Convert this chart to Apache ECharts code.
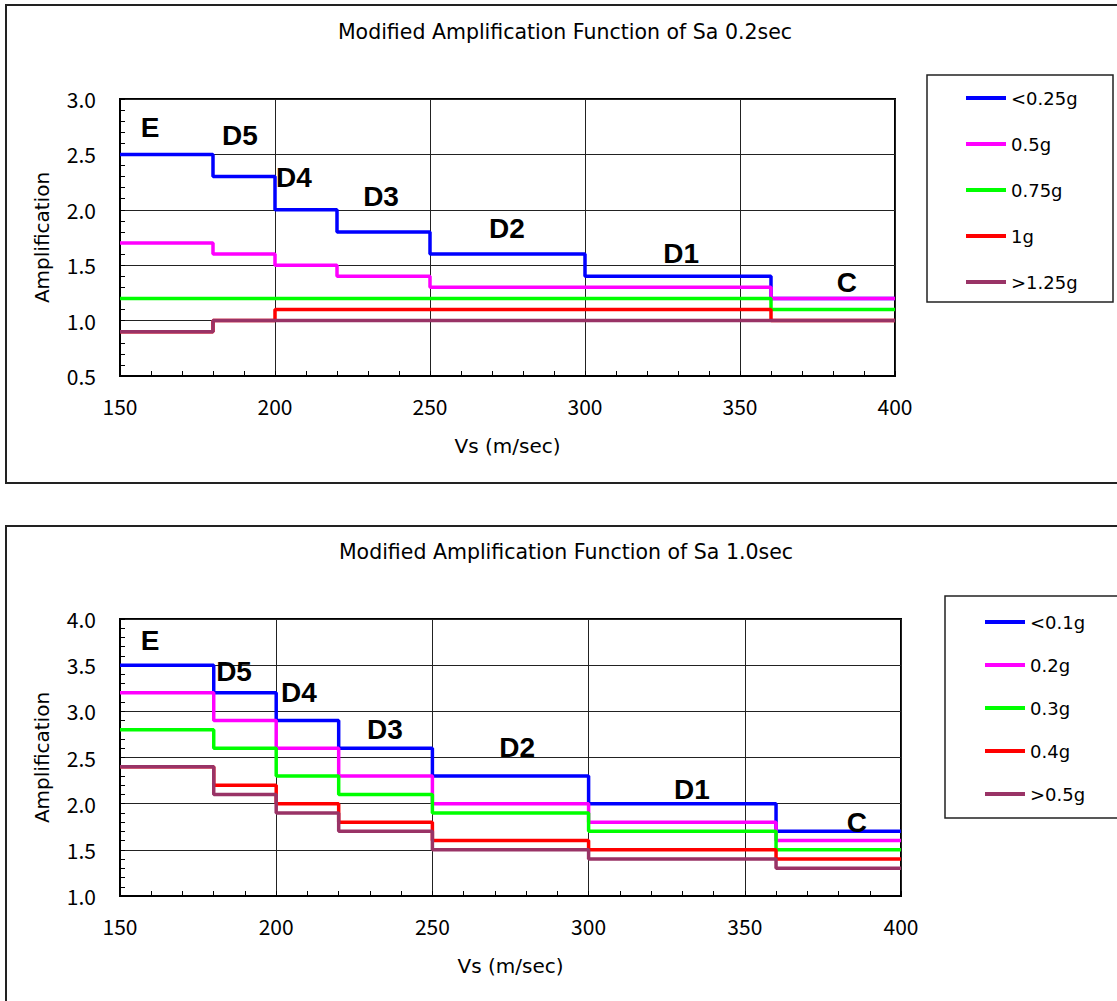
<!DOCTYPE html>
<html>
<head>
<meta charset="utf-8">
<script src="https://cdn.jsdelivr.net/npm/echarts@6/dist/echarts.min.js"></script>
<style>
html,body{margin:0;padding:0;background:#fff;}
#chart{width:1117px;height:1001px;}
</style>
</head>
<body>
<div id="chart"></div>
<script>
// Shear-wave velocity breakpoints (m/sec); each zone value holds until the next breakpoint
const vsBreaks = [150, 180, 200, 220, 250, 300, 360, 400];

// Sa 0.2 sec amplification, one value per zone (E, D5, D4, D3, D2, D1, C)
const top_lt025 = [2.5, 2.3, 2.0, 1.8, 1.6, 1.4, 1.2];
const top_05    = [1.7, 1.6, 1.5, 1.4, 1.3, 1.3, 1.2];
const top_075   = [1.2, 1.2, 1.2, 1.2, 1.2, 1.2, 1.1];
const top_1     = [0.9, 1.0, 1.1, 1.1, 1.1, 1.1, 1.0];
const top_gt125 = [0.9, 1.0, 1.0, 1.0, 1.0, 1.0, 1.0];
const topNames  = ['<0.25g', '0.5g', '0.75g', '1g', '>1.25g'];

// Sa 1.0 sec amplification
const bot_lt01 = [3.5, 3.2, 2.9, 2.6, 2.3, 2.0, 1.7];
const bot_02   = [3.2, 2.9, 2.6, 2.3, 2.0, 1.8, 1.6];
const bot_03   = [2.8, 2.6, 2.3, 2.1, 1.9, 1.7, 1.5];
const bot_04   = [2.4, 2.2, 2.0, 1.8, 1.6, 1.5, 1.4];
const bot_gt05 = [2.4, 2.1, 1.9, 1.7, 1.5, 1.4, 1.3];
const botNames = ['<0.1g', '0.2g', '0.3g', '0.4g', '>0.5g'];

// Site-class zone labels and their positions in data units [Vs, Amplification]
const zoneNames = ['E', 'D5', 'D4', 'D3', 'D2', 'D1', 'C'];
const topZonePos = [[159.7, 2.74], [188.7, 2.67], [206.1, 2.29], [234.2, 2.12], [274.8, 1.83], [331, 1.61], [384.5, 1.34]];
const botZonePos = [[159.6, 3.77], [186.5, 3.43], [207.3, 3.20], [234.8, 2.80], [277.1, 2.61], [333.1, 2.15], [385.9, 1.80]];

const colors = ['#0000FF', '#FF00FF', '#00FF00', '#FF0000', '#993366'];
const FONT = 'DejaVu Sans';
const TICKFONT = 'Noto Sans CJK JP';

function stepData(vals) {
  return vsBreaks.map((x, i) => [x, vals[Math.min(i, vals.length - 1)]]);
}

function xAxisCfg(gi) {
  return {
    gridIndex: gi, type: 'value', min: 150, max: 400, interval: 50,
    name: 'Vs (m/sec)', nameLocation: 'middle', nameGap: 60,
    nameTextStyle: {fontFamily: FONT, fontSize: 20, color: '#000'},
    axisLine: {show: true, onZero: false, lineStyle: {color: '#000', width: 2}},
    axisTick: {show: true, inside: true, length: 5, lineStyle: {color: '#000'}},
    minorTick: {show: true, splitNumber: 5, length: 5, lineStyle: {color: '#000'}},
    axisLabel: {fontFamily: TICKFONT, fontSize: 21, color: '#000', margin: 19},
    splitLine: {show: true, lineStyle: {color: '#222', width: 1}}
  };
}
function yAxisCfg(gi, min, max) {
  return {
    gridIndex: gi, type: 'value', min: min, max: max, interval: 0.5,
    name: 'Amplification', nameLocation: 'middle', nameGap: 68,
    nameTextStyle: {fontFamily: FONT, fontSize: 20, color: '#000'},
    axisLine: {show: true, onZero: false, lineStyle: {color: '#000', width: 2}},
    axisTick: {show: true, inside: true, length: 5, lineStyle: {color: '#000'}},
    minorTick: {show: true, splitNumber: 5, length: 5, lineStyle: {color: '#000'}},
    axisLabel: {fontFamily: TICKFONT, fontSize: 21, color: '#000', margin: 24,
      formatter: v => v.toFixed(1)},
    splitLine: {show: true, lineStyle: {color: '#222', width: 1}}
  };
}

const series = [];
[top_lt025, top_05, top_075, top_1, top_gt125].forEach((vals, i) => {
  series.push({type: 'line', name: topNames[i], xAxisIndex: 0, yAxisIndex: 0,
    step: 'end', data: stepData(vals), showSymbol: false, symbol: 'none',
    lineStyle: {color: colors[i], width: 3.5}, itemStyle: {color: colors[i]}, z: 3 + i});
});
[bot_lt01, bot_02, bot_03, bot_04, bot_gt05].forEach((vals, i) => {
  series.push({type: 'line', name: botNames[i], xAxisIndex: 1, yAxisIndex: 1,
    step: 'end', data: stepData(vals), showSymbol: false, symbol: 'none',
    lineStyle: {color: colors[i], width: 3.5}, itemStyle: {color: colors[i]}, z: 3 + i});
});
function zoneSeries(gi, pos) {
  return {type: 'scatter', name: 'zones' + gi, xAxisIndex: gi, yAxisIndex: gi,
    symbolSize: 0, itemStyle: {color: '#000', opacity: 1}, z: 20, silent: true,
    data: pos.map((p, i) => ({name: zoneNames[i], value: p})),
    label: {show: true, position: [0, 0], align: 'center', verticalAlign: 'middle',
      formatter: p => p.name, textBorderWidth: 0, opacity: 1,
      fontFamily: 'Liberation Sans', fontWeight: 'bold', fontSize: 28, color: '#000000'}};
}
series.push(zoneSeries(0, topZonePos));
series.push(zoneSeries(1, botZonePos));

function legendCfg(names, left, top, gap) {
  return {
    data: names, orient: 'vertical', left: left, top: top, padding: 0,
    itemWidth: 40, itemHeight: 4, icon: 'rect', itemGap: gap, itemTextGap: 3,
    selectedMode: false,
    textStyle: {fontFamily: FONT, fontSize: 18, color: '#000', lineHeight: 20}
  };
}

const option = {
  animation: false,
  backgroundColor: '#fff',
  title: [
    {text: 'Modified Amplification Function of Sa 0.2sec', left: 565, top: 21, textAlign: 'center', padding: 0,
      textStyle: {fontFamily: FONT, fontSize: 20.5, fontWeight: 'normal', color: '#000'}},
    {text: 'Modified Amplification Function of Sa 1.0sec', left: 566, top: 541, textAlign: 'center', padding: 0,
      textStyle: {fontFamily: FONT, fontSize: 20.5, fontWeight: 'normal', color: '#000'}}
  ],
  grid: [
    {left: 120, top: 99, width: 775, height: 277, show: true, borderColor: '#000', borderWidth: 2, backgroundColor: 'transparent'},
    {left: 120, top: 619, width: 781, height: 277, show: true, borderColor: '#000', borderWidth: 2, backgroundColor: 'transparent'}
  ],
  xAxis: [xAxisCfg(0), xAxisCfg(1)],
  yAxis: [yAxisCfg(0, 0.5, 3.0), yAxisCfg(1, 1.0, 4.0)],
  legend: [
    legendCfg(topNames, 966, 88, 26),
    legendCfg(botNames, 985, 612, 23)
  ],
  graphic: [
    {type: 'rect', shape: {x: 6, y: 5, width: 1130, height: 478}, style: {fill: null, stroke: '#222', lineWidth: 2}, silent: true, z: -10},
    {type: 'rect', shape: {x: 6, y: 526, width: 1130, height: 500}, style: {fill: null, stroke: '#222', lineWidth: 2}, silent: true, z: -10},
    {type: 'rect', shape: {x: 927, y: 75, width: 186, height: 227}, style: {fill: null, stroke: '#222', lineWidth: 1.5}, silent: true, z: -10},
    {type: 'rect', shape: {x: 945, y: 596, width: 200, height: 222}, style: {fill: null, stroke: '#222', lineWidth: 1.5}, silent: true, z: -10}
  ],
  series: series
};

const chart = echarts.init(document.getElementById('chart'), null, {renderer: 'svg'});
chart.setOption(option);
</script>
</body>
</html>
